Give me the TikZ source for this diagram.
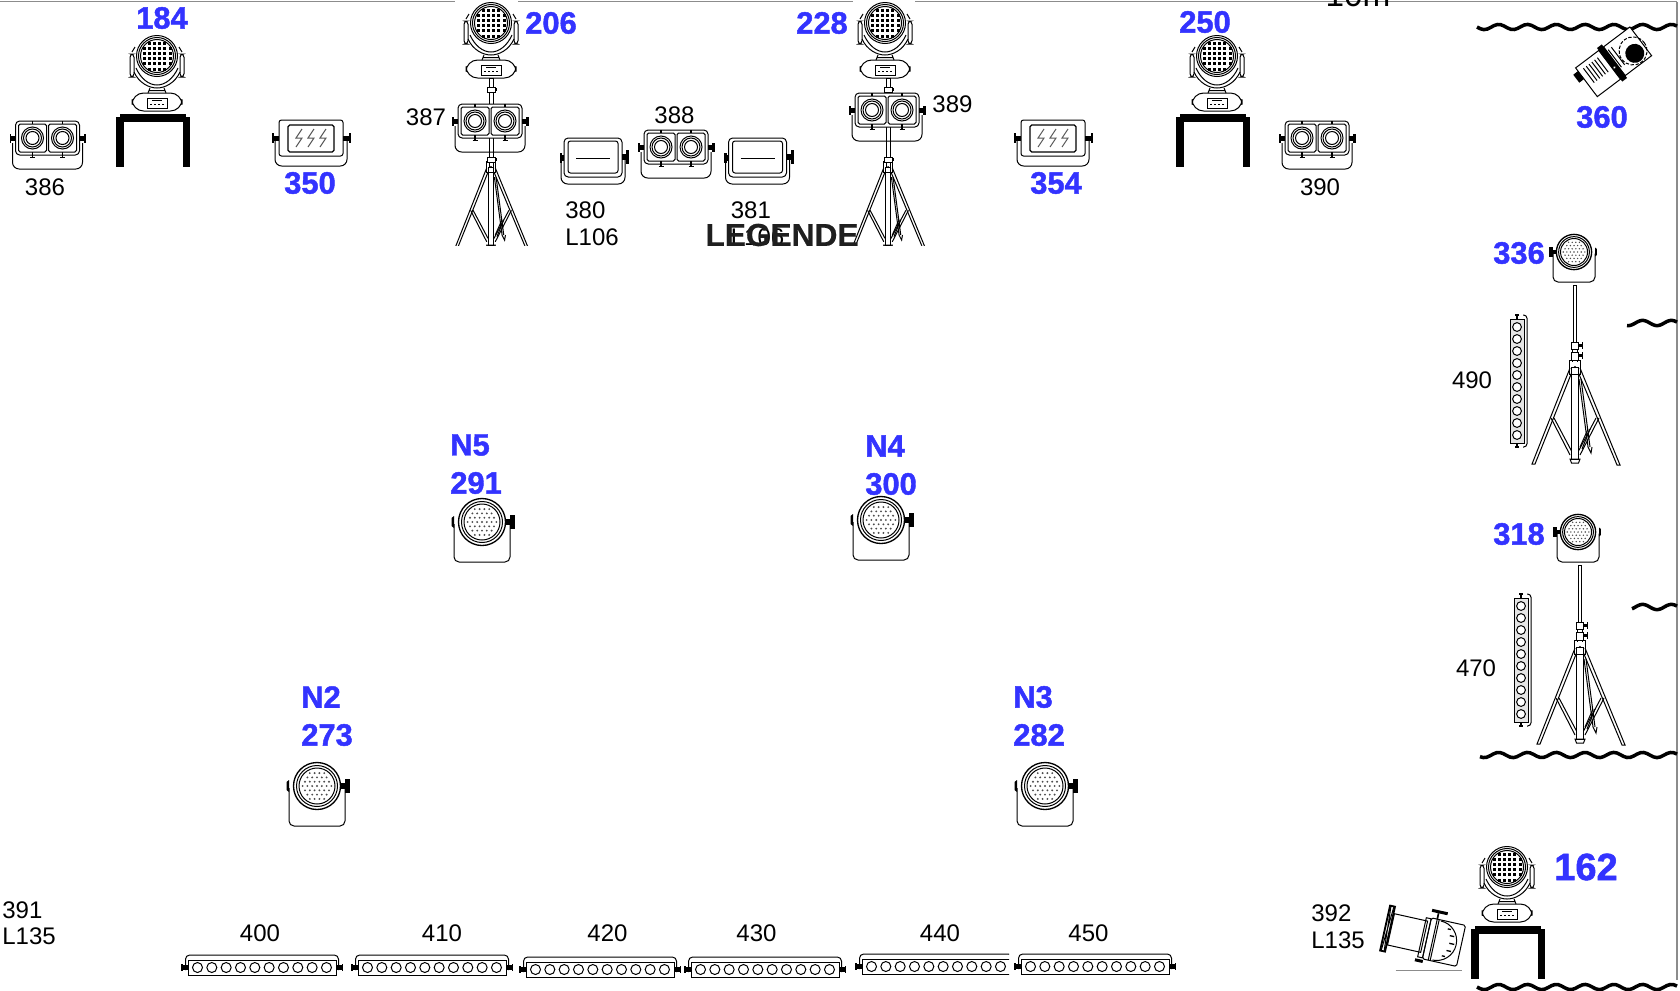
\documentclass[tikz,border=0pt]{standalone}
\usepackage{fontspec}
\setmainfont{Liberation Sans}
\newfontfamily\bluef[UprightFont=* Bold,FakeBold=1.4]{Liberation Sans}
\newfontfamily\boldf[UprightFont=* Bold,FakeBold=0.5]{Liberation Sans}
\definecolor{lblue}{HTML}{3333FF}
\definecolor{gline}{HTML}{8C8C8C}
\tikzset{
  thin line/.style={line width=0.6pt,black},
  blk/.style={font=\fontsize{14.4pt}{14.4pt}\selectfont,text=black,inner sep=0pt},
  blu/.style={font=\fontsize{18.5pt}{18.5pt}\bluef,text=lblue,inner sep=0pt},
  blubig/.style={font=\fontsize{22.8pt}{22.8pt}\bluef,text=lblue,inner sep=0pt},
  wave/.style={line width=2.1pt,black},
  movinghead/.pic={
    \draw[thin line] (0,0) circle (16.5);
    \draw[thin line] (0,0) circle (18.5);
    \draw[thin line] (0,0) circle (20.5);
    \foreach \i in {-2.5,-1.5,...,2.5}{\foreach \j in {-2.5,-1.5,...,2.5}{
      \pgfmathsetmacro\rr{\i*\i+\j*\j}
      \ifdim\rr pt<11pt \fill[black] (\i*5.2-1.5,\j*5.2-1.5) rectangle ++(3,3);\fi}}
    \draw[thin line,rounded corners=2] (-27,-2) rectangle (-23,21);
    \draw[thin line,rounded corners=2] (23,-2) rectangle (27,21);
    \draw[thin line] (-25,-4) -- (-22,-9);
    \draw[thin line] (25,-4) -- (22,-9);
    \draw[thin line] (-23,16) .. controls (-18,27) and (-8,32) .. (0,32) .. controls (8,32) and (18,27) .. (23,16);
    \draw[thin line] (-21,12) .. controls (-16,23) and (-8,29) .. (0,29) .. controls (8,29) and (16,23) .. (21,12);
    \draw[thin line] (-7,32) -- (-9,37) (7,32) -- (9,37) (-8,34.5) -- (8,34.5);
    \draw[thin line,rounded corners=7] (-25,55) rectangle (25,37);
    \draw[thin line,fill=white] (-10,42) rectangle (10,52);
    \draw[thin line] (-5,44) -- (5,44);
    \foreach \i in {-6,-2,2,6} \fill (\i-.6,48) rectangle ++(1.2,1.2);
  },
  cellbase/.pic={
    \draw[thin line,fill=white,rounded corners=2.5] (-32,-17) rectangle (32,17);
    \draw[thin line,rounded corners=4] (-35,5) -- (-35,31) -- (35,31) -- (35,5);
    \fill[black] (-38,-4.5) rectangle (-36.5,4.5);
    \fill[black] (-36.5,-2.5) rectangle (-32,2.5);
    \fill[black] (36,-4.5) rectangle (38.5,4.5);
    \fill[black] (32,-2.5) rectangle (36,2.5);
  },
  twincell/.pic={
    \pic {cellbase};
    \foreach \x in {-15,15}{
      \draw[thin line,fill=white,rounded corners=1] (\x-14,-14) rectangle (\x+14,14);
      \draw[thin line] (\x,0) circle (11);
      \draw[thin line] (\x,0) circle (9);
      \draw[thin line] (\x,0) circle (6.5);
      \draw[thin line,line width=1pt] (\x,-17) -- (\x,-14);
      \draw[thin line,line width=1pt] (\x,14) -- (\x,19) (\x-2.5,19.5) -- (\x+2.5,19.5);
    }
  },
  strobelamp/.pic={
    \draw[thin line,rounded corners=1.5] (-32,-18) rectangle (32,18);
    \draw[thin line,rounded corners=4] (-36,2) -- (-36,28) -- (36,28) -- (36,2);
    \draw[thin line,rounded corners=1,line width=0.75pt] (-23,-13) rectangle (23,14);
    \fill[black] (-39,-5) rectangle (-37.5,5);
    \fill[black] (-37.5,-2.5) rectangle (-32,2.5);
    \fill[black] (38,-5) rectangle (39.5,5);
    \fill[black] (32,-2.5) rectangle (38,2.5);
    \foreach \x in {-12,0,12}
      \draw[thin line,gray!70!black] (\x+3,-9) -- (\x-3,0) -- (\x+3,0) -- (\x-3,9);
  },
  blinderlamp/.pic={
    \draw[thin line,rounded corners=2.5] (-29,-19) rectangle (29,20);
    \draw[thin line,rounded corners=1.5] (-25,-16) rectangle (25,16);
    \draw[thin line,rounded corners=4] (-32,2) -- (-32,27) -- (32,27) -- (32,2);
    \draw[thin line] (-17,1) -- (17,1);
    \fill[black] (-33.5,-4) rectangle (-31,6);
    \fill[black] (-31,-2) rectangle (-29,4);
    \fill[black] (33,-7) rectangle (36,7);
    \fill[black] (29,-3) rectangle (33,3);
  },
  ledpar/.pic={
    \draw[thin line,rounded corners=3] (-28,2) -- (-28,40) -- (28,40) -- (28,2);
    \fill[white] (0,0) circle (23.5);
    \draw[thin line,line width=.8pt] (0,0) circle (23.5);
    \draw[thin line] (0,0) circle (20.5);
    \draw[thin line] (0,0) circle (18);
    \foreach \i in {-3,...,3}{\foreach \j in {-3,...,3}{
      \pgfmathsetmacro\xx{(\i+.5*mod(abs(\j),2))*4.8}
      \pgfmathsetmacro\yy{\j*4.3}
      \pgfmathsetmacro\rr{\xx*\xx+\yy*\yy}
      \ifdim\rr pt<240pt \fill[black!70] (\xx,\yy) circle (1.05);\fi}}
    \fill[black] (-30.5,-4) -- (-28,-6) -- (-28,6) -- (-30.5,4) -- cycle;
    \fill[black] (24,-3) rectangle (28,3);
    \fill[black] (28,-7) rectangle (33,7);
  },
  triplegs/.pic={
    \draw[thin line] (-3.5,0) rectangle (3.5,92);
    \draw[thin line] (-5.5,-7) rectangle (5.5,7);
    \fill (0,0) circle (1.2);
    \draw[thin line] (-5,1) -- (-43,97) -- (-40,97) -- (-3.5,6);
    \draw[thin line] (5,1) -- (45,98) -- (42,98) -- (3.5,6);
    \draw[thin line] (-24,51) -- (-5,88) (-21,51) -- (-3.5,84);
    \draw[thin line] (24,51) -- (5,88) (21,51) -- (3.5,84);
    \draw[thin line] (-5,92) -- (5,92) -- (3.5,96) -- (-3.5,96) -- cycle;
    \draw[thin line] (4,12) -- (13,80) (6,12) -- (15,80);
    \draw[thin line] (13,80) -- (16,86) -- (17,80) (5,80) -- (13,62) (7,82) -- (15,62);
  },
  tallcollar/.pic={
    \draw[thin line] (-1.5,-82) rectangle (1.5,-25);
    \draw[thin line,fill=white] (-3.5,-25) rectangle (3.5,-18);
    \draw[thin line,fill=white] (-3.5,-15) rectangle (3.5,-7);
    \fill (3.5,-23) rectangle (7.5,-20);
    \fill (6.5,-25) rectangle (8,-18);
    \fill (3.5,-13) rectangle (7.5,-10);
    \fill (6.5,-15) rectangle (8,-8);
    \draw[thin line] (-2.5,-18) -- (-2.5,-15) (2.5,-18) -- (2.5,-15);
    \draw[thin line] (-2.5,-7) -- (-2.5,-5) (2.5,-7) -- (2.5,-5);
  },
  shortpole/.pic={
    \draw[thin line] (-2,0) rectangle (2,89);
    \draw[thin line,fill=white] (-4,9) rectangle (4,14);
    \fill (4,10) rectangle (6,13);
    \draw[thin line,fill=white] (-4,79) rectangle (4,84);
    \fill (4,80) rectangle (6,83);
  },
  ledbar/.pic={
    \draw[thin line] (-74,-6) rectangle (74,9);
    \draw[thin line,rounded corners=2.5] (-76.5,4) -- (-76.5,-11) -- (76.5,-11) -- (76.5,4);
    \foreach \i in {0,...,9} \draw[thin line] (-64.5+14.33*\i,1.5) circle (5);
    \fill[black] (-79.5,-1) rectangle (-74,4);
    \fill[black] (-81,-2) rectangle (-79.5,5);
    \fill[black] (74,-1) rectangle (79.5,4);
    \fill[black] (79.5,-2) rectangle (81,5);
  },
  vledbar/.pic={
    \draw[thin line,fill=black!10] (-7,-62) rectangle (7,62);
    \draw[thin line,rounded corners=2] (6,-66) -- (10,-66) -- (10,66) -- (6,66);
    \foreach \i in {0,...,9} \draw[thin line,fill=white] (0,-54+12*\i) circle (4.4);
    \draw[black,line width=1pt] (0,-67) -- (0,-62) (0,62) -- (0,67) (-2,-66) -- (2,-66) (-2,66) -- (2,66);
  },
  blackstand/.pic={
    \fill[black] (4,0) rectangle (70,7.5);
    \fill[black] (0,3) rectangle (7.5,53);
    \fill[black] (66.5,3) rectangle (74,53);
  },
  profilespot/.pic={
    \draw[thin line,fill=white] (-32,-18) rectangle (-3,18);
    \draw[thin line,fill=white] (3,-18) rectangle (36,18);
    \fill[black] (-38,-14) rectangle (-32,-4);
    \foreach \i in {-26,-22.5,-19,-15.5,-12,-8.5} \draw[thin line] (\i,-13) -- (\i,5);
    \fill[black] (-3,-21) rectangle (3,21);
    \fill[white] (-.8,5) circle (1.2);
    \draw[thin line] (5,-13) -- (5,9) (9,-13) -- (9,9);
    \draw[thin line,dash pattern=on 2pt off 1pt] (24,3) circle (14);
    \fill[black] (24,6) circle (9.5);
  },
  profilelens/.pic={
    \draw[thin line,fill=white] (-40,-16) rectangle (-6,16);
    \draw[line width=1.1pt,fill=white] (-46,-23) rectangle (-41,23);
    \draw[thin line] (-45,-23) -- (-42,23) (-42,-23) -- (-45,23);
    \draw[thin line,rounded corners=1,fill=white] (-3,-20) rectangle (32,22);
    \draw[thin line] (-8,-19) rectangle (-3,21) (3,-20) -- (3,22) (5,-20) -- (5,22);
    \draw[thin line] (7,-19) arc[start angle=-90,end angle=90,radius=20];
    \foreach \a in {-50,-25,0,25,50}
      \draw[thin line,line width=.8pt] ({7+18*cos(\a)},{1+18*sin(\a)}) -- ({7+13*cos(\a)},{1+18*sin(\a)});
    \fill[black] (-4,-29) rectangle (12,-26);
    \draw[black,line width=1pt] (3,-26) -- (3,-20);
    \fill[black] (-10,23) rectangle (-2,26);
  },
}
\begin{document}
\begin{tikzpicture}[x=0.6pt,y=-0.6pt]
\useasboundingbox (0,0) rectangle (1680,990);
\clip (0,0) rectangle (1680,990);
\fill[white] (0,0) rectangle (1680,990);
% frame
\draw[gline,line width=0.7pt] (0,1.5) -- (455,1.5) (518,1.5) -- (853,1.5) (915,1.5) -- (1677,1.5);
\draw[gline,line width=0.7pt] (1677,1.5) -- (1677,980);
% waves
\foreach \xa/\xb/\ya in {1477/1677/27,1627/1677/323,1632/1677/607,1480/1677/755,1477/1677/987}
  \draw[wave] plot[domain=\xa:\xb,samples=60,smooth] (\x,{\ya+2.6*sin((\x-1477)*12.5)});
% stands
\pic (standa) at (116,114) {blackstand};
\pic (standb) at (1176,114) {blackstand};
\pic (standc) at (1471,926) {blackstand};
% tripods
\begin{scope}
\clip (430,160) rectangle (960,245);
\pic[scale=.85] (tripa) at (491,167) {triplegs};
\pic[scale=.85] (tripb) at (888,167) {triplegs};
\end{scope}
\pic (tripc) at (1575,367) {triplegs};
\pic (tripd) at (1580,647) {triplegs};
\pic (colc) at (1575,367) {tallcollar};
\pic (cold) at (1580,647) {tallcollar};
\pic (polea) at (491,78) {shortpole};
\pic (poleb) at (888,78) {shortpole};
% moving heads
\pic (h184) at (157,56) {movinghead};
\pic (h206) at (491,23) {movinghead};
\pic (h228) at (885,23) {movinghead};
\pic (h250) at (1217,56) {movinghead};
\pic (h162) at (1507,867) {movinghead};
% twin cells
\pic (c386) at (47.5,138) {twincell};
\pic (c387) at (490,121) {twincell};
\pic (c388) at (676,147) {twincell};
\pic (c389) at (887,110) {twincell};
\pic (c390) at (1317,138) {twincell};
% strobes, blinders
\pic (s350) at (311,138) {strobelamp};
\pic (s354) at (1053,138) {strobelamp};
\pic (b380) at (593,157) {blinderlamp};
\pic (b381) at (757.5,157) {blinderlamp};
% pars
\pic (p291) at (482,522) {ledpar};
\pic (p300) at (881,520) {ledpar};
\pic (p273) at (317,786) {ledpar};
\pic (p282) at (1045,786) {ledpar};
\pic[scale=.75,xscale=-1] (p336) at (1574,252) {ledpar};
\pic[scale=.75,xscale=-1] (p318) at (1578,532) {ledpar};
% bars
\pic (bar400) at (262,966) {ledbar};
\pic (bar410) at (432,966) {ledbar};
\pic (bar420) at (600,968) {ledbar};
\pic (bar430) at (765,968) {ledbar};
\begin{scope}
\clip (850,940) rectangle (1009,990);
\pic (bar440) at (936,965) {ledbar};
\end{scope}
\pic (bar450) at (1095,965) {ledbar};
\pic (v490) at (1517,381) {vledbar};
\pic (v470) at (1521,660) {vledbar};
% profiles
\pic[rotate=37] (sp360) at (1612,63) {profilespot};
\pic[rotate=-12.5] (sp392) at (1430,938) {profilelens};
\coordinate (bla) at (1395.5,970.5);
\coordinate (blb) at (1462,970.5);
\draw[gline,line width=.6pt] (bla) -- (blb);
% black labels
\node[blk] (t386) at (45,187) {386};
\node[blk] (t390) at (1320,187) {390};
\node[blk] (t387) at (426,117) {387};
\node[blk] (t388) at (674.5,115) {388};
\node[blk] (t389) at (952.5,104) {389};
\node[blk,anchor=west] (t380) at (565,210) {380};
\node[blk,anchor=west] (t380b) at (565,237) {L106};
\node[blk,anchor=west] (t381) at (730.5,210) {381};
\node[blk,anchor=west] (t381b) at (730.5,237) {L106};
\node[blk,anchor=west] (t391) at (2,910) {391};
\node[blk,anchor=west] (t391b) at (2,936) {L135};
\node[blk,anchor=west] (t392) at (1311,913) {392};
\node[blk,anchor=west] (t392b) at (1311,940) {L135};
\node[blk] (t400) at (260,933) {400};
\node[blk] (t410) at (442,933) {410};
\node[blk] (t420) at (607.5,933) {420};
\node[blk] (t430) at (756.5,933) {430};
\node[blk] (t440) at (940,933) {440};
\node[blk] (t450) at (1088.5,933) {450};
\node[blk] (t490) at (1472,380) {490};
\node[blk] (t470) at (1476,668) {470};
\node[anchor=base,inner sep=0pt,font=\fontsize{20pt}{20pt}\selectfont] (t10m) at (1358,6) {10m};
\node[inner sep=0pt,text=black!88,font=\fontsize{19pt}{19pt}\boldf] (tleg) at (782,235) {LEGENDE};
% blue labels
\node[blu] (n184) at (162,18) {184};
\node[blu] (n350) at (310,183) {350};
\node[blu] (n206) at (551,23) {206};
\node[blu] (n228) at (822,23) {228};
\node[blu] (n250) at (1205,22) {250};
\node[blu] (n354) at (1056,183) {354};
\node[blu] (n360) at (1602,117) {360};
\node[blu] (n336) at (1519,253) {336};
\node[blu] (n318) at (1519,534) {318};
\node[blu,anchor=west] (nN5) at (450,445) {N5};
\node[blu,anchor=west] (n291) at (450,483) {291};
\node[blu,anchor=west] (nN4) at (865,446) {N4};
\node[blu,anchor=west] (n300) at (865,484) {300};
\node[blu,anchor=west] (nN2) at (301,697) {N2};
\node[blu,anchor=west] (n273) at (301,735) {273};
\node[blu,anchor=west] (nN3) at (1013,697) {N3};
\node[blu,anchor=west] (n282) at (1013,735) {282};
\node[blubig] (n162) at (1586,867) {162};
\end{tikzpicture}
\end{document}
